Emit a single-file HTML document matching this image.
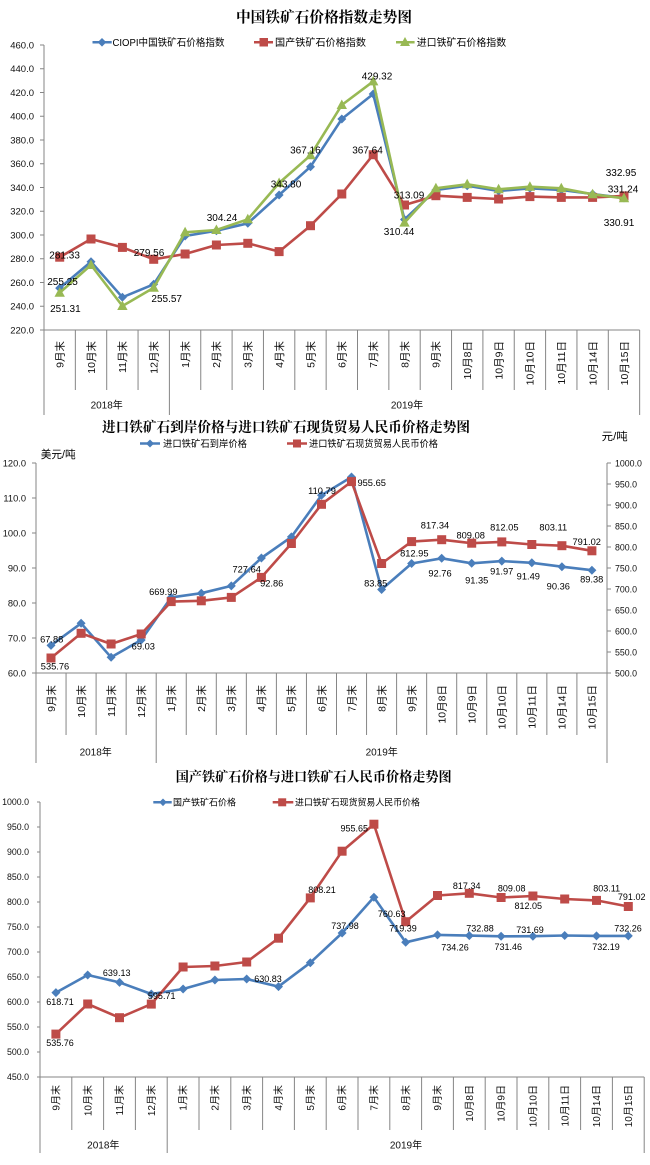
<!DOCTYPE html>
<html><head><meta charset="utf-8"><style>html,body{margin:0;padding:0;background:#fff}svg{display:block}</style></head>
<body>
<svg width="650" height="1165" viewBox="0 0 650 1165" xmlns="http://www.w3.org/2000/svg" font-family="'Liberation Sans','Noto Sans CJK SC',sans-serif">
<defs>
<marker id="d" markerUnits="userSpaceOnUse" markerWidth="12" markerHeight="12" viewBox="-6 -6 12 12" refX="0" refY="0"><path d="M0,-4.5L4.5,0L0,4.5L-4.5,0Z" fill="#4a7ebb"/></marker>
<marker id="s" markerUnits="userSpaceOnUse" markerWidth="12" markerHeight="12" viewBox="-6 -6 12 12" refX="0" refY="0"><path d="M-4.5,-4.5H4.5V4.5H-4.5Z" fill="#be4b48"/></marker>
<marker id="t" markerUnits="userSpaceOnUse" markerWidth="14" markerHeight="14" viewBox="-7 -7 14 14" refX="0" refY="0"><path d="M0,-5.5L5.2,4L-5.2,4Z" fill="#98b954"/></marker>
</defs>

<!-- ================= CHART 1 ================= -->
<text x="324" y="22" text-anchor="middle" font-family="'Liberation Serif','Noto Serif CJK SC',serif" font-weight="bold" font-size="15" textLength="176" lengthAdjust="spacingAndGlyphs">中国铁矿石价格指数走势图</text>
<!-- legend -->
<path d="M92.5,42.3H111.7" stroke="#4a7ebb" stroke-width="2.5"/><path d="M102,38L106.3,42.3L102,46.6L97.7,42.3Z" fill="#4a7ebb"/>
<text x="112.5" y="46" font-size="10" textLength="112" lengthAdjust="spacingAndGlyphs">CIOPI中国铁矿石价格指数</text>
<path d="M254,42.3H273" stroke="#be4b48" stroke-width="2.5"/><rect x="259.5" y="38" width="8.5" height="8.5" fill="#be4b48"/>
<text x="275" y="46" font-size="10" textLength="91" lengthAdjust="spacingAndGlyphs">国产铁矿石价格指数</text>
<path d="M396,42.3H414.6" stroke="#98b954" stroke-width="2.5"/><path d="M405,37L410,46L400,46Z" fill="#98b954"/>
<text x="416.7" y="46" font-size="10" textLength="89.5" lengthAdjust="spacingAndGlyphs">进口铁矿石价格指数</text>

<!-- axes -->
<g stroke="#868686" stroke-width="1" fill="none">
<path d="M44,45V415M44,330H639.65M639.65,330V415M169.4,330V415"/>
<path d="M40,45H44M40,68.75H44M40,92.5H44M40,116.25H44M40,140H44M40,163.75H44M40,187.5H44M40,211.25H44M40,235H44M40,258.75H44M40,282.5H44M40,306.25H44M40,330H44"/>
<path d="M75.35,330V390M106.7,330V390M138.05,330V390M200.75,330V390M232.1,330V390M263.45,330V390M294.8,330V390M326.15,330V390M357.5,330V390M388.85,330V390M420.2,330V390M451.55,330V390M482.9,330V390M514.25,330V390M545.6,330V390M576.95,330V390M608.3,330V390"/>
</g>
<g font-size="9.5" text-anchor="end" fill="#111">
<text x="34" y="48.3">460.0</text><text x="34" y="72">440.0</text><text x="34" y="95.8">420.0</text><text x="34" y="119.5">400.0</text><text x="34" y="143.3">380.0</text><text x="34" y="167">360.0</text><text x="34" y="190.8">340.0</text><text x="34" y="214.5">320.0</text><text x="34" y="238.3">300.0</text><text x="34" y="262">280.0</text><text x="34" y="285.8">260.0</text><text x="34" y="309.5">240.0</text><text x="34" y="333.3">220.0</text>
</g>
<!-- category labels -->
<g font-size="10.5" text-anchor="end" fill="#111">
<text transform="translate(63.5,341) rotate(-90)">9月末</text>
<text transform="translate(94.8,341) rotate(-90)">10月末</text>
<text transform="translate(126.2,341) rotate(-90)">11月末</text>
<text transform="translate(157.5,341) rotate(-90)">12月末</text>
<text transform="translate(188.9,341) rotate(-90)">1月末</text>
<text transform="translate(220.2,341) rotate(-90)">2月末</text>
<text transform="translate(251.6,341) rotate(-90)">3月末</text>
<text transform="translate(282.9,341) rotate(-90)">4月末</text>
<text transform="translate(314.3,341) rotate(-90)">5月末</text>
<text transform="translate(345.6,341) rotate(-90)">6月末</text>
<text transform="translate(377,341) rotate(-90)">7月末</text>
<text transform="translate(408.3,341) rotate(-90)">8月末</text>
<text transform="translate(439.7,341) rotate(-90)">9月末</text>
<text transform="translate(471,341) rotate(-90)">10月8日</text>
<text transform="translate(502.4,341) rotate(-90)">10月9日</text>
<text transform="translate(533.7,341) rotate(-90)">10月10日</text>
<text transform="translate(565.1,341) rotate(-90)">10月11日</text>
<text transform="translate(596.4,341) rotate(-90)">10月14日</text>
<text transform="translate(627.8,341) rotate(-90)">10月15日</text>
</g>
<g font-size="10" text-anchor="middle" fill="#111">
<text x="106.7" y="408.5">2018年</text><text x="407" y="408.5">2019年</text>
</g>
<!-- series -->
<g fill="none" stroke-width="2.6" stroke-linejoin="round">
<polyline stroke="#4a7ebb" marker-start="url(#d)" marker-mid="url(#d)" marker-end="url(#d)" points="59.7,288.1 91.0,261.7 122.4,297.3 153.7,284.3 185.1,236.0 216.4,230.7 247.8,223.3 279.1,195.0 310.5,166.7 341.8,119.0 373.2,94.0 404.5,219.5 435.9,190.0 467.2,185.7 498.6,191.0 529.9,188.3 561.3,190.0 592.6,194.0 624.0,197.9"/>
<polyline stroke="#be4b48" marker-start="url(#s)" marker-mid="url(#s)" marker-end="url(#s)" points="59.7,257.2 91.0,239.0 122.4,247.4 153.7,259.3 185.1,254.0 216.4,245.0 247.8,243.3 279.1,251.6 310.5,225.7 341.8,194.0 373.2,154.7 404.5,205.0 435.9,195.7 467.2,197.4 498.6,199.0 529.9,196.6 561.3,197.4 592.6,197.4 624.0,195.9"/>
<polyline stroke="#98b954" marker-start="url(#t)" marker-mid="url(#t)" marker-end="url(#t)" points="59.7,292.8 91.0,265.0 122.4,306.0 153.7,287.8 185.1,232.3 216.4,230.0 247.8,219.3 279.1,183.0 310.5,155.3 341.8,105.0 373.2,81.4 404.5,222.6 435.9,188.3 467.2,184.3 498.6,189.3 529.9,186.7 561.3,188.3 592.6,194.3 624.0,198.3"/>
</g>
<g font-size="10" text-anchor="middle" fill="#000">
<text x="64.6" y="258.5">281.33</text>
<text x="62.5" y="285">255.25</text>
<text x="65.4" y="312">251.31</text>
<text x="149" y="256">279.56</text>
<text x="166.7" y="302">255.57</text>
<text x="222" y="221">304.24</text>
<text x="286" y="187.5">343.80</text>
<text x="305.4" y="153.5">367.16</text>
<text x="367.5" y="153.5">367.64</text>
<text x="377" y="79.5">429.32</text>
<text x="409" y="198.5">313.09</text>
<text x="399" y="235">310.44</text>
<text x="621" y="176">332.95</text>
<text x="623" y="192.5">331.24</text>
<text x="619" y="226">330.91</text>
</g>

<!-- ================= CHART 2 ================= -->
<text x="286" y="432" text-anchor="middle" font-family="'Liberation Serif','Noto Serif CJK SC',serif" font-weight="bold" font-size="14" textLength="368" lengthAdjust="spacingAndGlyphs">进口铁矿石到岸价格与进口铁矿石现货贸易人民币价格走势图</text>
<path d="M140,443.5H160" stroke="#4a7ebb" stroke-width="2.5"/><path d="M150,439.5L154,443.5L150,447.5L146,443.5Z" fill="#4a7ebb"/>
<text x="163" y="447" font-size="9.5" textLength="84" lengthAdjust="spacingAndGlyphs">进口铁矿石到岸价格</text>
<path d="M287,443.5H307" stroke="#be4b48" stroke-width="2.5"/><rect x="293" y="439.5" width="8" height="8" fill="#be4b48"/>
<text x="309" y="447" font-size="9.5" textLength="129" lengthAdjust="spacingAndGlyphs">进口铁矿石现货贸易人民币价格</text>
<text x="40.7" y="458" font-size="11" textLength="35" lengthAdjust="spacingAndGlyphs">美元/吨</text>
<text x="601.7" y="440" font-size="11" textLength="26" lengthAdjust="spacingAndGlyphs">元/吨</text>

<g stroke="#868686" stroke-width="1" fill="none">
<path d="M36,463V763M36,673H607M607,463V763M156.2,673V763"/>
<path d="M32,463H36M32,498H36M32,533H36M32,568H36M32,603H36M32,638H36M32,673H36"/>
<path d="M607,463H611M607,484H611M607,505H611M607,526H611M607,547H611M607,568H611M607,589H611M607,610H611M607,631H611M607,652H611M607,673H611"/>
<path d="M66.05,673V735M96.1,673V735M126.15,673V735M186.25,673V735M216.3,673V735M246.35,673V735M276.4,673V735M306.45,673V735M336.5,673V735M366.55,673V735M396.6,673V735M426.65,673V735M456.7,673V735M486.75,673V735M516.8,673V735M546.85,673V735M576.9,673V735"/>
</g>
<g font-size="9.3" text-anchor="end" fill="#111">
<text x="26" y="466.3">120.0</text><text x="26" y="501.3">110.0</text><text x="26" y="536.3">100.0</text><text x="26" y="571.3">90.0</text><text x="26" y="606.3">80.0</text><text x="26" y="641.3">70.0</text><text x="26" y="676.3">60.0</text>
</g>
<g font-size="8.8" text-anchor="start" fill="#111">
<text x="615" y="466.3">1000.0</text><text x="615" y="487.3">950.0</text><text x="615" y="508.3">900.0</text><text x="615" y="529.3">850.0</text><text x="615" y="550.3">800.0</text><text x="615" y="571.3">750.0</text><text x="615" y="592.3">700.0</text><text x="615" y="613.3">650.0</text><text x="615" y="634.3">600.0</text><text x="615" y="655.3">550.0</text><text x="615" y="676.3">500.0</text>
</g>
<g font-size="10.5" text-anchor="end" fill="#111">
<text transform="translate(54.8,685) rotate(-90)">9月末</text>
<text transform="translate(84.9,685) rotate(-90)">10月末</text>
<text transform="translate(114.9,685) rotate(-90)">11月末</text>
<text transform="translate(145,685) rotate(-90)">12月末</text>
<text transform="translate(175,685) rotate(-90)">1月末</text>
<text transform="translate(205.1,685) rotate(-90)">2月末</text>
<text transform="translate(235.1,685) rotate(-90)">3月末</text>
<text transform="translate(265.2,685) rotate(-90)">4月末</text>
<text transform="translate(295.2,685) rotate(-90)">5月末</text>
<text transform="translate(325.3,685) rotate(-90)">6月末</text>
<text transform="translate(355.3,685) rotate(-90)">7月末</text>
<text transform="translate(385.4,685) rotate(-90)">8月末</text>
<text transform="translate(415.4,685) rotate(-90)">9月末</text>
<text transform="translate(445.5,685) rotate(-90)">10月8日</text>
<text transform="translate(475.5,685) rotate(-90)">10月9日</text>
<text transform="translate(505.6,685) rotate(-90)">10月10日</text>
<text transform="translate(535.6,685) rotate(-90)">10月11日</text>
<text transform="translate(565.7,685) rotate(-90)">10月14日</text>
<text transform="translate(595.7,685) rotate(-90)">10月15日</text>
</g>
<g font-size="10" text-anchor="middle" fill="#111">
<text x="95.7" y="755.5">2018年</text><text x="381.7" y="755.5">2019年</text>
</g>
<g fill="none" stroke-width="2.6" stroke-linejoin="round">
<polyline stroke="#4a7ebb" marker-start="url(#d)" marker-mid="url(#d)" marker-end="url(#d)" points="51.0,645.4 81.1,623.3 111.1,657.3 141.2,640.0 171.2,597.4 201.3,593.2 231.3,585.9 261.4,558.0 291.4,536.9 321.5,495.2 351.5,477.0 381.6,589.5 411.6,563.5 441.7,558.3 471.7,563.3 501.8,561.1 531.8,562.8 561.9,566.7 591.9,570.2"/>
<polyline stroke="#be4b48" marker-start="url(#s)" marker-mid="url(#s)" marker-end="url(#s)" points="51.0,658.0 81.1,633.3 111.1,644.0 141.2,634.0 171.2,601.6 201.3,600.8 231.3,597.4 261.4,577.4 291.4,543.5 321.5,504.3 351.5,481.6 381.6,563.5 411.6,541.6 441.7,539.7 471.7,543.2 501.8,541.9 531.8,544.5 561.9,545.7 591.9,550.8"/>
</g>
<g font-size="9.3" text-anchor="middle" fill="#000">
<text x="51.7" y="642.6">67.88</text>
<text x="55" y="669.3">535.76</text>
<text x="143.3" y="649.3">69.03</text>
<text x="163.3" y="595">669.99</text>
<text x="246.7" y="572.3">727.64</text>
<text x="271.7" y="586.6">92.86</text>
<text x="322" y="494">110.79</text>
<text x="371.7" y="486">955.65</text>
<text x="375.7" y="586.6">83.85</text>
<text x="414.3" y="556.6">812.95</text>
<text x="435" y="528.3">817.34</text>
<text x="470.7" y="538.3">809.08</text>
<text x="504.3" y="530.6">812.05</text>
<text x="553.3" y="530.6">803.11</text>
<text x="586.7" y="545">791.02</text>
<text x="440" y="576.6">92.76</text>
<text x="476.7" y="583.3">91.35</text>
<text x="501.7" y="574.3">91.97</text>
<text x="528.3" y="579.3">91.49</text>
<text x="558.3" y="589.3">90.36</text>
<text x="591.7" y="582.3">89.38</text>
</g>

<!-- ================= CHART 3 ================= -->
<text x="313.7" y="781.5" text-anchor="middle" font-family="'Liberation Serif','Noto Serif CJK SC',serif" font-weight="bold" font-size="13.5" textLength="276" lengthAdjust="spacingAndGlyphs">国产铁矿石价格与进口铁矿石人民币价格走势图</text>
<path d="M153.3,802.3H171.7" stroke="#4a7ebb" stroke-width="2.5"/><path d="M163,798.5L166.8,802.3L163,806.1L159.2,802.3Z" fill="#4a7ebb"/>
<text x="173" y="805.6" font-size="9" textLength="63" lengthAdjust="spacingAndGlyphs">国产铁矿石价格</text>
<path d="M272.7,802.3H293.3" stroke="#be4b48" stroke-width="2.5"/><rect x="278.2" y="798.3" width="8" height="8" fill="#be4b48"/>
<text x="295" y="805.6" font-size="9" textLength="125" lengthAdjust="spacingAndGlyphs">进口铁矿石现货贸易人民币价格</text>

<g stroke="#868686" stroke-width="1" fill="none">
<path d="M40,802V1153M40,1077H644.2M644.2,1077V1153M167.2,1077V1153"/>
<path d="M37,802H40M37,827H40M37,852H40M37,877H40M37,902H40M37,927H40M37,952H40M37,977H40M37,1002H40M37,1027H40M37,1052H40M37,1077H40"/>
<path d="M71.8,1077V1130M103.6,1077V1130M135.4,1077V1130M199,1077V1130M230.8,1077V1130M262.6,1077V1130M294.4,1077V1130M326.2,1077V1130M358,1077V1130M389.8,1077V1130M421.6,1077V1130M453.4,1077V1130M485.2,1077V1130M517,1077V1130M548.8,1077V1130M580.6,1077V1130M612.4,1077V1130"/>
</g>
<g font-size="8.8" text-anchor="end" fill="#111">
<text x="29" y="805.2">1000.0</text><text x="29" y="830.2">950.0</text><text x="29" y="855.2">900.0</text><text x="29" y="880.2">850.0</text><text x="29" y="905.2">800.0</text><text x="29" y="930.2">750.0</text><text x="29" y="955.2">700.0</text><text x="29" y="980.2">650.0</text><text x="29" y="1005.2">600.0</text><text x="29" y="1030.2">550.0</text><text x="29" y="1055.2">500.0</text><text x="29" y="1080.2">450.0</text>
</g>
<g font-size="10" text-anchor="end" fill="#111">
<text transform="translate(59.5,1085) rotate(-90)">9月末</text>
<text transform="translate(91.3,1085) rotate(-90)">10月末</text>
<text transform="translate(123.1,1085) rotate(-90)">11月末</text>
<text transform="translate(154.9,1085) rotate(-90)">12月末</text>
<text transform="translate(186.7,1085) rotate(-90)">1月末</text>
<text transform="translate(218.5,1085) rotate(-90)">2月末</text>
<text transform="translate(250.3,1085) rotate(-90)">3月末</text>
<text transform="translate(282.1,1085) rotate(-90)">4月末</text>
<text transform="translate(313.9,1085) rotate(-90)">5月末</text>
<text transform="translate(345.7,1085) rotate(-90)">6月末</text>
<text transform="translate(377.5,1085) rotate(-90)">7月末</text>
<text transform="translate(409.3,1085) rotate(-90)">8月末</text>
<text transform="translate(441.1,1085) rotate(-90)">9月末</text>
<text transform="translate(472.9,1085) rotate(-90)">10月8日</text>
<text transform="translate(504.7,1085) rotate(-90)">10月9日</text>
<text transform="translate(536.5,1085) rotate(-90)">10月10日</text>
<text transform="translate(568.3,1085) rotate(-90)">10月11日</text>
<text transform="translate(600.1,1085) rotate(-90)">10月14日</text>
<text transform="translate(631.9,1085) rotate(-90)">10月15日</text>
</g>
<g font-size="10" text-anchor="middle" fill="#111">
<text x="103.3" y="1148.5">2018年</text><text x="406" y="1148.5">2019年</text>
</g>
<g fill="none" stroke-width="2.6" stroke-linejoin="round">
<polyline stroke="#4a7ebb" marker-start="url(#d)" marker-mid="url(#d)" marker-end="url(#d)" points="55.9,992.6 87.7,975.0 119.5,982.4 151.3,994.0 183.1,989.0 214.9,980.0 246.7,979.0 278.5,986.6 310.3,962.7 342.1,933.0 373.9,897.3 405.7,942.3 437.5,934.9 469.3,935.6 501.1,936.3 532.9,936.2 564.7,935.5 596.5,935.9 628.3,935.9"/>
<polyline stroke="#be4b48" marker-start="url(#s)" marker-mid="url(#s)" marker-end="url(#s)" points="55.9,1034.1 87.7,1004.0 119.5,1017.7 151.3,1004.1 183.1,967.0 214.9,966.0 246.7,962.0 278.5,938.2 310.3,897.9 342.1,851.2 373.9,824.2 405.7,921.7 437.5,895.5 469.3,893.3 501.1,897.5 532.9,896.0 564.7,899.0 596.5,900.4 628.3,906.5"/>
</g>
<g font-size="9" text-anchor="middle" fill="#000">
<text x="60" y="1004.9">618.71</text>
<text x="60" y="1045.9">535.76</text>
<text x="116.7" y="975.9">639.13</text>
<text x="161.7" y="999.2">595.71</text>
<text x="268" y="982.2">630.83</text>
<text x="322" y="893.2">808.21</text>
<text x="345" y="928.9">737.98</text>
<text x="354.3" y="831.5">955.65</text>
<text x="391.7" y="917.2">760.63</text>
<text x="403" y="931.5">719.39</text>
<text x="466.7" y="888.9">817.34</text>
<text x="511.7" y="891.5">809.08</text>
<text x="528.3" y="908.9">812.05</text>
<text x="606.7" y="891.5">803.11</text>
<text x="631.7" y="899.9">791.02</text>
<text x="455" y="950.5">734.26</text>
<text x="480" y="931.5">732.88</text>
<text x="508.3" y="949.9">731.46</text>
<text x="530" y="933.2">731.69</text>
<text x="606" y="949.9">732.19</text>
<text x="628" y="931.5">732.26</text>
</g>
</svg>
</body></html>
